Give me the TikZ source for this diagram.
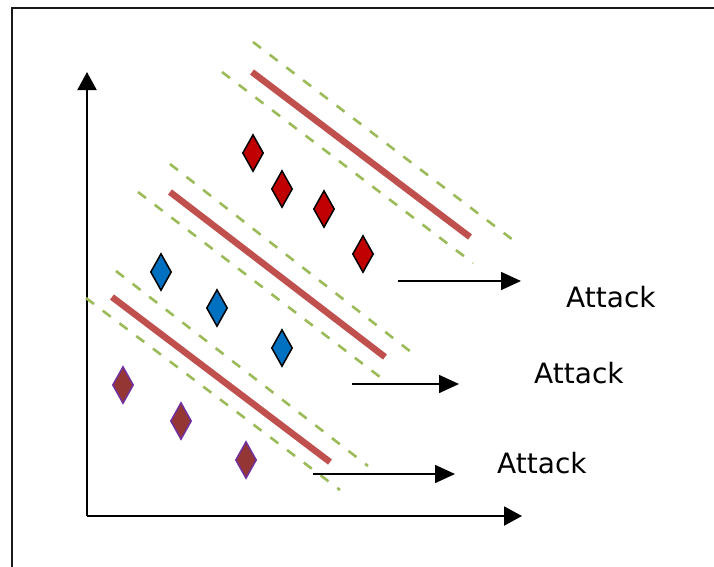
\documentclass[tikz,border=0pt]{standalone}
\usepackage{fontspec}
\setmainfont{DejaVu Sans}
\usetikzlibrary{arrows.meta,shapes.geometric}
\definecolor{sepred}{HTML}{C0504D}
\definecolor{margreen}{HTML}{9BBB59}
\definecolor{dred}{HTML}{C00000}
\definecolor{dblue}{HTML}{0070C0}
\definecolor{dbrown}{HTML}{943634}
\definecolor{dpurple}{HTML}{7030A0}
\tikzset{
  sepline/.style={draw=sepred,line width=6.5pt},
  marginline/.style={draw=margreen,line width=2.6pt,dash pattern=on 10pt off 11pt},
  pt/.style={diamond,inner sep=0pt,minimum width=21pt,minimum height=37pt,line width=1.5pt},
  redpt/.style={pt,fill=dred,draw=black},
  bluept/.style={pt,fill=dblue,draw=black},
  brownpt/.style={pt,fill=dbrown,draw=dpurple},
  axis/.style={line width=2pt,-{Triangle[length=18pt,width=19pt]}},
  attackarrow/.style={line width=1.6pt,-{Triangle[length=20pt,width=18pt]}},
  lbl/.style={anchor=base west,inner sep=0pt,font=\fontsize{28pt}{30pt}\selectfont}
}
\begin{document}
\begin{tikzpicture}[x=1pt,y=-1pt]
\useasboundingbox (0,0) rectangle (714,566);
\draw[line width=2.2pt,black!90] (12,570) -- (12,8) -- (718,8);
% axes
\coordinate (o) at (87,516);
\coordinate (ytop) at (87,72);
\coordinate (xend) at (522,516);
\draw[axis] (o) -- (ytop);
\draw[axis] (o) -- (xend);
% top group
\draw[marginline] (253,42) -- (513,240);
\draw[sepline] (252,72) -- (470,237);
\draw[marginline] (222,72) -- (473,263);
% middle group
\draw[marginline] (170,164) -- (411,352);
\draw[sepline] (170,192) -- (385,357);
\draw[marginline] (138,192) -- (380,377);
% bottom group
\draw[marginline] (116,271) -- (368,466);
\draw[sepline] (112,297) -- (330,462);
\draw[marginline] (86,298) -- (340,490);
% points
\node[redpt] (r1) at (253,153) {};
\node[redpt] (r2) at (282,189) {};
\node[redpt] (r3) at (324,209) {};
\node[redpt] (r4) at (363,254) {};
\node[bluept] (b1) at (161,272) {};
\node[bluept] (b2) at (217,308) {};
\node[bluept] (b3) at (282,348) {};
\node[brownpt] (p1) at (123,385) {};
\node[brownpt] (p2) at (181,421) {};
\node[brownpt] (p3) at (246,460) {};
% attacks
\coordinate (a1s) at (398,281);
\coordinate (a1e) at (521,281);
\coordinate (a2s) at (352,384);
\coordinate (a2e) at (459,384);
\coordinate (a3s) at (313,474);
\coordinate (a3e) at (455,474);
\draw[attackarrow] (a1s) -- (a1e);
\draw[attackarrow] (a2s) -- (a2e);
\draw[attackarrow] (a3s) -- (a3e);
\node[lbl] (t1) at (566,307) {Attack};
\node[lbl] (t2) at (534,383) {Attack};
\node[lbl] (t3) at (497,473) {Attack};
\end{tikzpicture}
\end{document}
